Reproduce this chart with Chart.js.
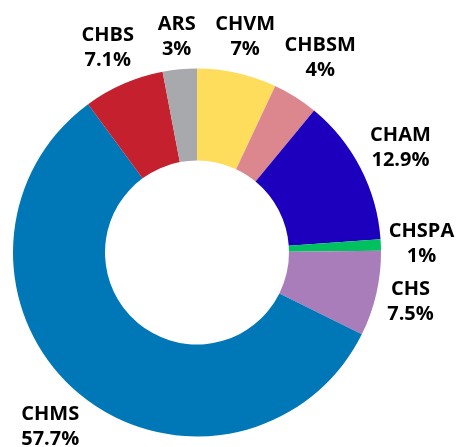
<!DOCTYPE html>
<html>
<head>
  <meta charset="UTF-8">
  <title>Share by group</title>
  <script src="https://cdn.jsdelivr.net/npm/chart.js"></script>
  <style>
    body { margin: 0; background: #fff; font-family: "Open Sans", sans-serif; }
    .chart-container { width: 463px; height: 447px; }
  </style>
</head>
<body>
  <div class="chart-container">
    <canvas id="shareChart" width="463" height="447"></canvas>
  </div>

  <script>
    // slices, clockwise from 12 o'clock
    const groups = ['CHVM', 'CHBSM', 'CHAM', 'CHSPA', 'CHS', 'CHMS', 'CHBS', 'ARS'];
    const shares = [7, 4, 12.9, 1, 7.5, 57.7, 7.1, 3];
    const colors = ['#FFDD5C', '#DC878E', '#1C00BE', '#00C060', '#A97DBA', '#0077B6', '#C4202E', '#A8A9AD'];

    // name + percentage drawn outside each slice
    const outsideLabels = {
      id: 'outsideLabels',
      afterDatasetsDraw(chart) {
        const ctx = chart.ctx;
        const meta = chart.getDatasetMeta(0);
        ctx.save();
        ctx.font = 'bold 20px "Open Sans"';
        ctx.fillStyle = '#000';
        ctx.textAlign = 'center';
        ctx.textBaseline = 'middle';
        const lineGap = 25;
        const boxH = 48;
        meta.data.forEach((arc, i) => {
          const p = arc.getProps(['x', 'y', 'startAngle', 'endAngle', 'outerRadius'], true);
          const mid = (p.startAngle + p.endAngle) / 2;
          const top = groups[i];
          const bottom = shares[i] + '%';
          const w = Math.max(ctx.measureText(top).width, ctx.measureText(bottom).width);
          const c = Math.cos(mid), s = Math.sin(mid);
          const dist = p.outerRadius + 7 + (w / 2) * Math.abs(c) + (boxH / 2) * Math.abs(s);
          const cx = p.x + c * dist;
          const cy = p.y + s * dist;
          ctx.fillText(top, cx, cy - lineGap / 2);
          ctx.fillText(bottom, cx, cy + lineGap / 2);
        });
        ctx.restore();
      }
    };

    new Chart(document.getElementById('shareChart'), {
      type: 'doughnut',
      data: {
        labels: groups,
        datasets: [{
          data: shares,
          backgroundColor: colors,
          borderWidth: 0
        }]
      },
      options: {
        responsive: false,
        animation: false,
        cutout: '50%',
        layout: { padding: { left: 13, right: 82, top: 68.5, bottom: 10.5 } },
        plugins: {
          legend: { display: false },
          tooltip: { enabled: false }
        }
      },
      plugins: [outsideLabels]
    });
  </script>
</body>
</html>
